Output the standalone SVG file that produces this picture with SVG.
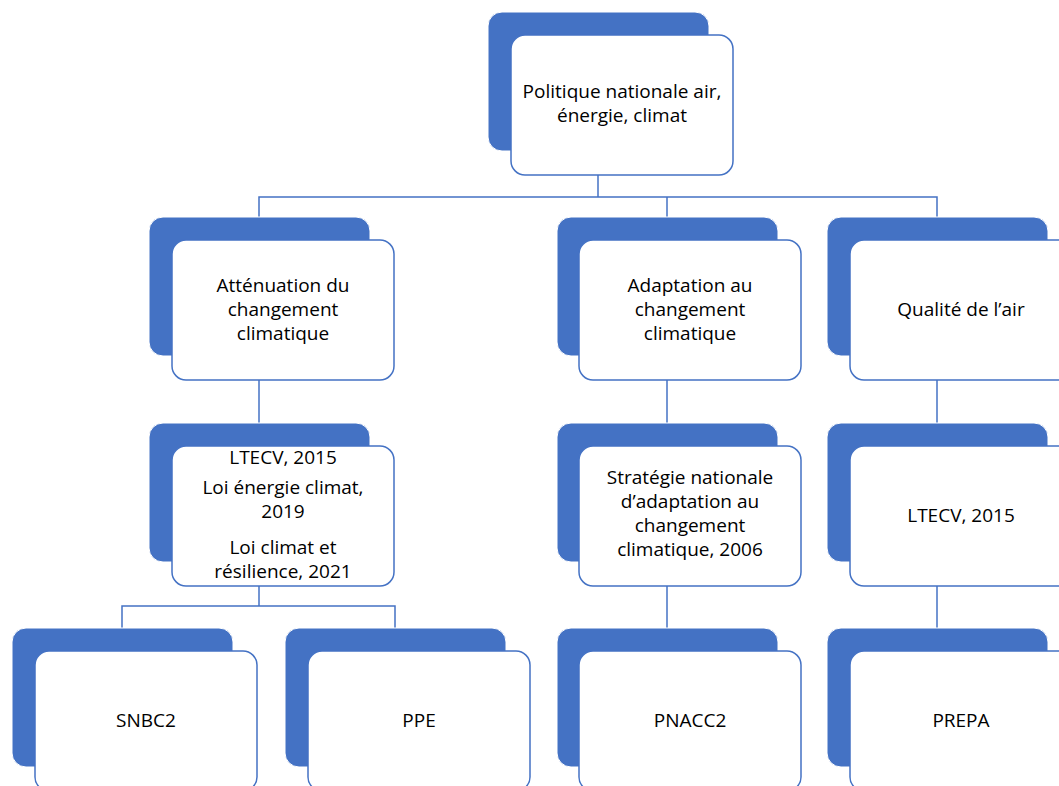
<svg xmlns="http://www.w3.org/2000/svg" width="1059" height="786" viewBox="0 0 1059 786">
<style>
.back{fill:#4472C4;stroke:#ffffff;stroke-width:1}
.front{fill:#ffffff;stroke:#4472C4;stroke-width:1.5}
.conn{fill:none;stroke:#4472C4;stroke-width:1.5}
text{font-family:"Open Sans","Liberation Sans",Arial,sans-serif;font-size:19px;fill:#000000;text-anchor:middle}
</style>
<rect width="1059" height="786" fill="#ffffff"/>
<g id="connectors">
<path class="conn" d="M598,175 V197"/>
<path class="conn" d="M259,217 V197 H937 V217"/>
<path class="conn" d="M667,197 V217"/>
<path class="conn" d="M259,380 V423"/>
<path class="conn" d="M667,380 V423"/>
<path class="conn" d="M937,380 V423"/>
<path class="conn" d="M259,586 V606"/>
<path class="conn" d="M122,628 V606 H395 V628"/>
<path class="conn" d="M667,586 V628"/>
<path class="conn" d="M937,586 V628"/>
</g>
<g id="node-politique">
<rect class="back" x="488" y="12" width="221" height="139" rx="14"/>
<rect class="front" x="511" y="35" width="222" height="140" rx="14"/>
<text x="622" y="98">Politique nationale air,</text>
<text x="622" y="122">énergie, climat</text>
</g>
<g id="node-attenuation">
<rect class="back" x="149" y="217" width="221" height="139" rx="14"/>
<rect class="front" x="172" y="240" width="222" height="140" rx="14"/>
<text x="283" y="292">Atténuation du</text>
<text x="283" y="316">changement</text>
<text x="283" y="340">climatique</text>
</g>
<g id="node-adaptation">
<rect class="back" x="557" y="217" width="221" height="139" rx="14"/>
<rect class="front" x="579" y="240" width="222" height="140" rx="14"/>
<text x="690" y="292">Adaptation au</text>
<text x="690" y="316">changement</text>
<text x="690" y="340">climatique</text>
</g>
<g id="node-qualite">
<rect class="back" x="827" y="217" width="221" height="139" rx="14"/>
<rect class="front" x="850" y="240" width="222" height="140" rx="14"/>
<text x="961" y="316">Qualité de l’air</text>
</g>
<g id="node-lois">
<rect class="back" x="149" y="423" width="221" height="139" rx="14"/>
<rect class="front" x="172" y="446" width="222" height="140" rx="14"/>
<text x="283" y="464">LTECV, 2015</text>
<text x="283" y="494">Loi énergie climat,</text>
<text x="283" y="518">2019</text>
<text x="283" y="554">Loi climat et</text>
<text x="283" y="578">résilience, 2021</text>
</g>
<g id="node-strategie">
<rect class="back" x="557" y="423" width="221" height="139" rx="14"/>
<rect class="front" x="579" y="446" width="222" height="140" rx="14"/>
<text x="690" y="484">Stratégie nationale</text>
<text x="690" y="508">d’adaptation au</text>
<text x="690" y="532">changement</text>
<text x="690" y="556">climatique, 2006</text>
</g>
<g id="node-ltecv">
<rect class="back" x="827" y="423" width="221" height="139" rx="14"/>
<rect class="front" x="850" y="446" width="222" height="140" rx="14"/>
<text x="961" y="522">LTECV, 2015</text>
</g>
<g id="node-snbc2">
<rect class="back" x="12" y="628" width="221" height="139" rx="14"/>
<rect class="front" x="35" y="651" width="222" height="140" rx="14"/>
<text x="146" y="727">SNBC2</text>
</g>
<g id="node-ppe">
<rect class="back" x="285" y="628" width="221" height="139" rx="14"/>
<rect class="front" x="308" y="651" width="222" height="140" rx="14"/>
<text x="419" y="727">PPE</text>
</g>
<g id="node-pnacc2">
<rect class="back" x="557" y="628" width="221" height="139" rx="14"/>
<rect class="front" x="579" y="651" width="222" height="140" rx="14"/>
<text x="690" y="727">PNACC2</text>
</g>
<g id="node-prepa">
<rect class="back" x="827" y="628" width="221" height="139" rx="14"/>
<rect class="front" x="850" y="651" width="222" height="140" rx="14"/>
<text x="961" y="727">PREPA</text>
</g>
</svg>
